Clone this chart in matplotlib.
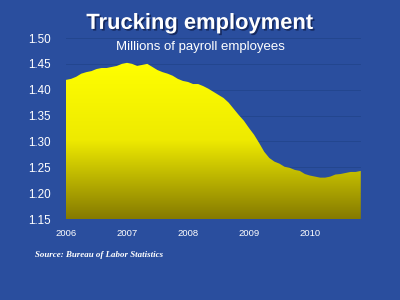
import matplotlib
matplotlib.use("Agg")
import matplotlib.pyplot as plt
import matplotlib.patheffects as pe
from matplotlib.colors import LinearSegmentedColormap
import numpy as np

# Monthly trucking payroll employment (millions), Jan 2006 - Nov 2010
employment = [1.419, 1.421, 1.425, 1.431, 1.434, 1.436, 1.440, 1.442, 1.442, 1.444,
              1.446, 1.450, 1.452, 1.450, 1.446, 1.448, 1.450, 1.444, 1.438, 1.434,
              1.431, 1.427, 1.421, 1.417, 1.415, 1.411, 1.411, 1.407, 1.402, 1.396,
              1.390, 1.384, 1.375, 1.363, 1.351, 1.340, 1.326, 1.313, 1.297, 1.280,
              1.268, 1.261, 1.257, 1.251, 1.249, 1.245, 1.243, 1.237, 1.234, 1.232,
              1.230, 1.230, 1.232, 1.236, 1.237, 1.239, 1.241, 1.241, 1.243]
start_year = 2006
year_ticks = [2006, 2007, 2008, 2009, 2010]
y_ticks = [1.15, 1.20, 1.25, 1.30, 1.35, 1.40, 1.45, 1.50]

bg = "#2a4e9e"
months = start_year + np.arange(len(employment)) / 12.0

fig = plt.figure(figsize=(4, 3), dpi=100, facecolor=bg)
ax = fig.add_axes([0.165, 0.27, 0.737, 0.6033], facecolor=bg)
ax.set_xlim(months[0], months[-1])
ax.set_ylim(1.15, 1.50)

for yv in y_ticks[1:]:
    ax.axhline(yv, color="#23468f", lw=0.7, zorder=1)

poly = ax.fill_between(months, 1.15, employment, color="none", lw=0, zorder=2)
cmap = LinearSegmentedColormap.from_list("yel", ["#857a00", "#eeea00", "#ffff00"])
grad = np.linspace(0, 1, 256).reshape(-1, 1)
img = ax.imshow(grad, cmap=cmap, aspect="auto", origin="lower",
                extent=[months[0], months[-1], 1.15, 1.455], zorder=2)
img.set_clip_path(poly.get_paths()[0], transform=ax.transData)

ax.set_yticks(y_ticks)
ax.set_yticklabels([f"{v:.2f}" for v in y_ticks])
ax.set_xticks(year_ticks)
ax.set_xticklabels([str(y) for y in year_ticks])
ax.tick_params(axis="y", length=0, pad=11, labelsize=8.4, labelcolor="white")
ax.tick_params(axis="x", length=0, pad=7, labelsize=6.8, labelcolor="white")
for lab in ax.get_xticklabels() + ax.get_yticklabels():
    lab.set_family("Liberation Sans")
for s in ax.spines.values():
    s.set_visible(False)

fig.text(0.5, 0.922, "Trucking employment", ha="center", va="center", color="white",
         fontsize=15.8, fontweight="bold", family="Liberation Sans",
         path_effects=[pe.withSimplePatchShadow(offset=(1.2, -1.2), shadow_rgbFace="#102050", alpha=0.8)])
fig.text(0.5, 0.843, "Millions of payroll employees", ha="center", va="center",
         color="white", fontsize=9.5, family="Liberation Sans")
fig.text(0.087, 0.15, "Source: Bureau of Labor Statistics", ha="left", va="center",
         color="white", fontsize=6.4, fontweight="bold", style="italic",
         family="Liberation Serif")

fig.savefig("out.png", dpi=100, facecolor=bg)
